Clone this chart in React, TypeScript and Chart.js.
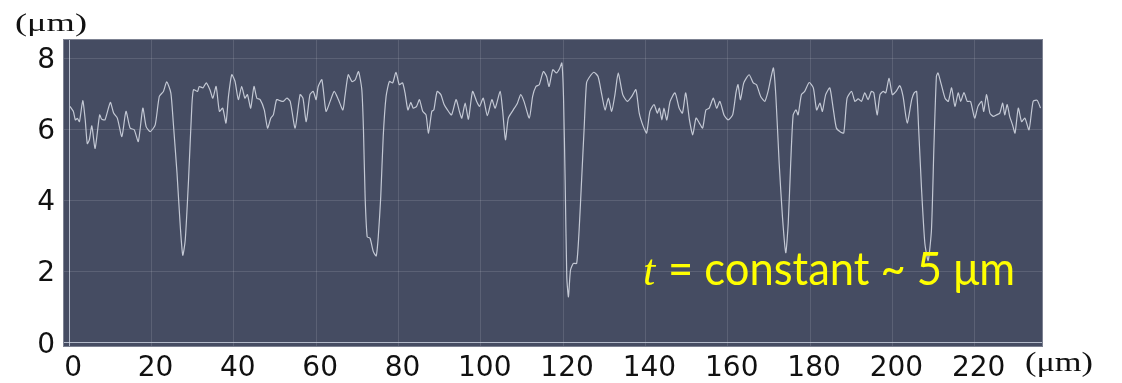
import React, { useEffect, useRef } from "react";
import { Chart, registerables } from "chart.js";

Chart.register(...registerables);

// ---- data (positions in µm along the scan, thickness in µm) ----
const positions: number[] = [
  0.2, 1.0, 1.5, 2.0, 2.5, 3.3, 3.9, 4.4, 4.9, 5.5,
  6.3, 7.4, 7.9, 8.7, 10.0, 10.8, 11.7, 12.8, 13.8, 14.8,
  15.8, 16.8, 17.9, 18.7, 19.7, 20.9, 21.9, 22.9, 23.7, 24.7,
  25.3, 26.2, 27.0, 27.6, 28.2, 29.0, 29.8, 30.2, 31.2, 31.6,
  32.5, 33.3, 34.2, 34.9, 35.7, 36.5, 37.3, 38.1, 38.7, 39.5,
  40.3, 41.1, 41.9, 42.7, 43.3, 44.1, 44.9, 45.6, 46.4, 47.4,
  48.2, 49.0, 49.6, 50.4, 51.2, 52.0, 52.9, 53.7, 54.9, 56.1,
  56.8, 57.6, 58.5, 59.3, 60.0, 60.5, 61.4, 62.4, 63.4, 64.4,
  65.4, 66.5, 67.0, 67.8, 68.7, 69.5, 70.3, 71.1, 71.5, 71.9,
  72.4, 73.1, 73.9, 74.6, 75.1, 75.7, 76.3, 77.0, 77.8, 78.6,
  79.4, 80.2, 81.0, 81.6, 82.3, 83.0, 83.6, 84.4, 85.1, 85.9,
  86.7, 87.3, 88.1, 88.6, 89.4, 90.3, 91.1, 91.9, 92.9, 94.0,
  94.8, 95.4, 96.2, 97.0, 98.0, 99.0, 99.7, 100.6, 101.6, 102.7,
  103.5, 104.7, 105.3, 106.0, 106.7, 107.9, 108.9, 109.7, 110.5, 111.8,
  112.6, 113.4, 114.2, 115.2, 116.0, 116.6, 117.5, 118.4, 119.1, 119.7,
  120.1, 120.5, 120.9, 121.3, 121.8, 122.5, 123.3, 123.9, 124.5, 125.1,
  125.7, 126.5, 127.5, 128.5, 129.4, 130.2, 131.0, 131.8, 132.6, 133.4,
  134.5, 135.6, 136.7, 137.7, 138.5, 139.5, 140.3, 141.1, 142.1, 142.9,
  143.4, 144.0, 144.5, 145.2, 146.0, 147.2, 148.2, 149.0, 149.8, 150.7,
  151.5, 152.3, 153.1, 153.9, 154.7, 155.5, 156.5, 157.3, 158.1, 159.1,
  160.1, 161.2, 162.0, 162.5, 163.1, 163.9, 165.2, 166.2, 167.0, 168.0,
  169.0, 169.8, 170.4, 171.1, 171.7, 172.5, 173.3, 174.1, 174.7, 175.3,
  175.9, 176.6, 177.1, 177.9, 178.7, 179.8, 180.8, 181.6, 182.4, 183.0,
  183.8, 184.8, 185.6, 186.4, 187.4, 188.2, 189.0, 190.1, 190.9, 191.7,
  192.5, 193.3, 194.1, 194.9, 195.5, 196.3, 197.0, 197.8, 198.4, 199.2,
  200.0, 200.9, 201.8, 202.6, 203.6, 204.7, 205.3, 205.9, 206.4, 207.1,
  207.9, 208.7, 209.5, 210.1, 210.7, 211.1, 211.9, 212.8, 213.6, 214.4,
  215.2, 216.0, 216.6, 217.4, 218.2, 219.0, 220.0, 220.8, 221.7, 222.2,
  222.9, 223.7, 224.5, 225.3, 226.1, 226.8, 227.3, 227.9, 228.5, 229.2,
  229.8, 230.6, 231.4, 232.2, 233.2, 234.2, 235.2, 236.0,
];

const thickness: number[] = [
  6.64, 6.50, 6.26, 6.30, 6.21, 6.80, 6.26, 5.59, 5.70, 6.09,
  5.46, 6.40, 6.28, 6.26, 6.75, 6.45, 6.31, 5.79, 6.50, 6.03,
  5.98, 5.65, 6.59, 6.07, 5.93, 6.12, 6.92, 7.06, 7.33, 7.02,
  6.17, 4.76, 3.25, 2.45, 2.88, 4.57, 6.64, 7.11, 7.06, 7.20,
  7.16, 7.30, 7.11, 6.87, 7.20, 6.50, 6.59, 6.17, 6.92, 7.53,
  7.34, 6.83, 7.20, 6.87, 6.97, 6.59, 7.20, 6.87, 6.83, 6.54,
  6.03, 6.31, 6.40, 6.83, 6.80, 6.78, 6.87, 6.78, 6.03, 6.97,
  6.87, 6.21, 6.97, 7.06, 6.83, 7.20, 7.39, 6.50, 6.78, 7.06,
  6.83, 6.54, 6.92, 7.53, 7.34, 7.39, 7.62, 7.11, 5.98, 4.10,
  2.97, 2.93, 2.55, 2.43, 2.97, 4.10, 5.79, 6.92, 7.34, 7.30,
  7.60, 7.25, 7.30, 7.02, 6.54, 6.75, 6.59, 6.64, 6.83, 6.50,
  6.40, 5.89, 6.50, 6.54, 7.06, 6.97, 6.69, 6.54, 6.40, 6.83,
  6.50, 6.31, 6.73, 6.28, 7.06, 6.78, 6.64, 6.87, 6.38, 6.83,
  6.59, 7.06, 6.54, 5.70, 6.31, 6.54, 6.73, 6.97, 6.78, 6.31,
  6.92, 7.20, 7.25, 7.62, 7.48, 7.20, 7.67, 7.58, 7.69, 7.86,
  6.92, 4.57, 1.84, 1.28, 2.03, 2.22, 2.22, 3.16, 4.57, 5.98,
  7.30, 7.48, 7.60, 7.48, 6.97, 6.54, 6.87, 6.50, 6.97, 7.58,
  6.97, 6.78, 6.92, 7.11, 6.45, 6.07, 5.89, 6.50, 6.69, 6.45,
  6.59, 6.26, 6.59, 6.26, 6.78, 7.02, 6.59, 6.45, 7.02, 6.26,
  5.84, 6.31, 6.17, 6.03, 6.54, 6.59, 6.87, 6.59, 6.78, 6.40,
  6.26, 6.40, 7.02, 7.25, 6.83, 7.30, 7.53, 7.30, 7.25, 6.92,
  6.78, 7.06, 7.39, 7.72, 6.92, 5.04, 3.53, 2.52, 3.35, 5.04,
  6.40, 6.54, 6.40, 6.97, 7.06, 7.31, 7.16, 6.54, 6.73, 6.50,
  6.97, 7.16, 6.60, 6.03, 5.92, 5.89, 6.87, 7.06, 6.78, 6.85,
  6.78, 7.02, 6.83, 7.06, 7.02, 6.40, 6.97, 7.06, 7.02, 7.43,
  6.97, 7.06, 7.22, 6.92, 6.17, 6.83, 7.02, 7.06, 5.98, 4.29,
  2.78, 2.30, 3.16, 5.51, 7.48, 7.58, 7.25, 6.87, 6.78, 7.16,
  6.64, 7.02, 6.78, 7.03, 6.78, 6.78, 6.31, 6.64, 6.78, 6.50,
  6.97, 6.45, 6.36, 6.40, 6.45, 6.73, 6.40, 6.69, 6.36, 6.12,
  5.89, 6.59, 6.21, 6.31, 5.98, 6.78, 6.81, 6.59,
];

const xTickValues: number[] = [0, 20, 40, 60, 80, 100, 120, 140, 160, 180, 200, 220];
const yTickValues: number[] = [0, 2, 4, 6, 8];
const unitLabel = "(μm)";
const annotationItalic = "t";
const annotationRest = "= constant ~ 5 μm";

// ---- styles ----
const W = 1122;
const H = 383;
const PLOT_BG = "#454c62";
const GRID_C = "rgba(255,255,255,0.12)";
const AXIS_C = "rgba(215,222,235,0.75)";
const LINE_C = "#c3c8d4";
const FRAME_C = "#7d8292";
const TICK_FONT = "'DejaVu Sans', 'Liberation Sans', sans-serif";

function drawStretched(
  ctx: CanvasRenderingContext2D,
  text: string,
  font: string,
  x: number,
  baseline: number,
  targetWidth: number,
  color: string
) {
  ctx.save();
  ctx.font = font;
  ctx.fillStyle = color;
  ctx.textAlign = "left";
  ctx.textBaseline = "alphabetic";
  const w = ctx.measureText(text).width;
  const sx = targetWidth / w;
  ctx.translate(x, baseline);
  ctx.scale(sx, 1);
  ctx.fillText(text, 0, 0);
  ctx.restore();
}

const decorPlugin = {
  id: "decor",
  beforeDraw(chart: any) {
    const { ctx, chartArea } = chart;
    const { left, top, right, bottom } = chartArea;
    ctx.save();
    ctx.fillStyle = PLOT_BG;
    ctx.fillRect(left, top, right - left, bottom - top);
    ctx.restore();
  },
  afterDraw(chart: any) {
    const { ctx, chartArea } = chart;
    const { left, top, right, bottom } = chartArea;
    ctx.save();
    ctx.strokeStyle = FRAME_C;
    ctx.lineWidth = 1;
    ctx.strokeRect(left + 0.5, top + 0.5, right - left - 1, bottom - top - 1);
    ctx.restore();

    // unit labels
    drawStretched(ctx, unitLabel, "25px 'Liberation Serif', 'DejaVu Serif', serif", 15, 31, 72, "#111");
    drawStretched(ctx, unitLabel, "27px 'Liberation Serif', 'DejaVu Serif', serif", 1025, 371, 68, "#111");

    // yellow annotation
    ctx.save();
    ctx.fillStyle = "#ffff00";
    ctx.font = "italic 44px 'Liberation Serif', 'DejaVu Serif', serif";
    ctx.textBaseline = "alphabetic";
    ctx.fillText(annotationItalic, 643, 285);
    ctx.restore();
    drawStretched(ctx, annotationRest, "46px Lato, 'Noto Sans', sans-serif", 668, 285, 347, "#ffff00");
  },
};

export default function App() {
  const canvasRef = useRef<HTMLCanvasElement | null>(null);

  useEffect(() => {
    const canvas = canvasRef.current;
    if (!canvas) return;
    const points = positions.map((x, i) => ({ x, y: thickness[i] }));
    const chart = new Chart(canvas, {
      type: "line",
      data: {
        datasets: [
          {
            data: points,
            borderColor: LINE_C,
            borderWidth: 1.2,
            pointRadius: 0,
            tension: 0.2,
            fill: false,
          },
        ],
      },
      options: {
        animation: false,
        responsive: false,
        maintainAspectRatio: false,
        parsing: true,
        layout: { padding: { left: 0, top: 39, right: 79, bottom: 0 } },
        plugins: {
          legend: { display: false },
          tooltip: { enabled: false },
          title: { display: false },
        },
        scales: {
          x: {
            type: "linear",
            min: -1.5,
            max: 236.6,
            afterBuildTicks: (scale: any) => {
              scale.ticks = xTickValues.map((v) => ({ value: v }));
            },
            afterFit: (scale: any) => {
              scale.height = 36;
            },
            grid: {
              color: (c: any) => (c.tick && c.tick.value === 0 ? AXIS_C : GRID_C),
              lineWidth: 1,
              drawTicks: false,
            },
            border: { display: false },
            ticks: {
              autoSkip: false,
              maxRotation: 0,
              padding: 5,
              labelOffset: 4,
              color: "#111",
              font: { family: TICK_FONT, size: 28 },
              callback: (v: any) => String(v),
            },
          },
          y: {
            type: "linear",
            min: -0.133,
            max: 8.536,
            afterBuildTicks: (scale: any) => {
              scale.ticks = yTickValues.map((v) => ({ value: v }));
            },
            afterFit: (scale: any) => {
              scale.width = 63;
            },
            grid: {
              color: (c: any) => (c.tick && c.tick.value === 0 ? AXIS_C : GRID_C),
              lineWidth: 1,
              drawTicks: false,
            },
            border: { display: false },
            ticks: {
              padding: 8,
              labelOffset: 3,
              color: "#111",
              font: { family: TICK_FONT, size: 28 },
              callback: (v: any) => String(v),
            },
          },
        },
      },
      plugins: [decorPlugin],
    });
    return () => chart.destroy();
  }, []);

  return (
    <div style={{ position: "fixed", left: 0, top: 0, width: W, height: H, background: "#fff" }}>
      <canvas ref={canvasRef} width={W} height={H} style={{ width: W, height: H, display: "block" }} />
    </div>
  );
}
